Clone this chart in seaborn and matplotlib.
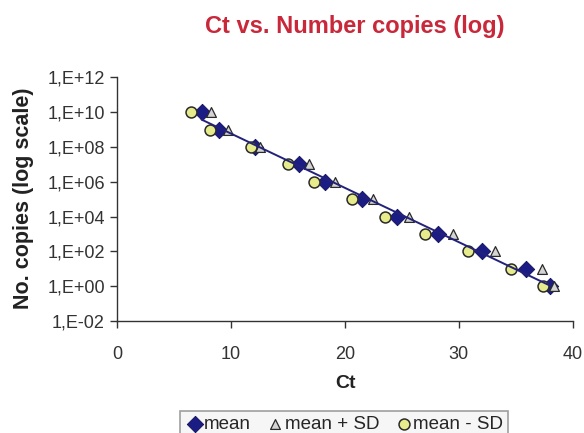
import numpy as np
import pandas as pd
import matplotlib
matplotlib.use("Agg")
import matplotlib.pyplot as plt
import seaborn as sns

# ---- data ----
copies = [1e10, 1e9, 1e8, 1e7, 1e6, 1e5, 1e4, 1e3, 1e2, 1e1, 1e0]
ct_mean = [7.4, 8.9, 12.1, 16.0, 18.2, 21.5, 24.6, 28.2, 32.0, 35.9, 38.0]
ct_plus_sd = [8.2, 9.7, 12.5, 16.8, 19.1, 22.5, 25.6, 29.5, 33.2, 37.3, 38.4]
ct_minus_sd = [6.5, 8.1, 11.7, 15.0, 17.3, 20.6, 23.5, 27.0, 30.8, 34.6, 37.4]
series_names = ["mean", "mean + SD", "mean - SD"]
y_tick_values = [1e-2, 1e0, 1e2, 1e4, 1e6, 1e8, 1e10, 1e12]
y_tick_labels = ["1,E-02", "1,E+00", "1,E+02", "1,E+04", "1,E+06", "1,E+08", "1,E+10", "1,E+12"]
x_tick_values = [0, 10, 20, 30, 40]

df = pd.DataFrame({
    "Ct": ct_mean + ct_plus_sd + ct_minus_sd,
    "copies": copies * 3,
    "series": [series_names[0]] * len(copies) + [series_names[1]] * len(copies) + [series_names[2]] * len(copies),
})

sns.set_style("white")
plt.rcParams["font.family"] = ["Liberation Sans", "DejaVu Sans"]

fig = plt.figure(figsize=(5.84, 4.33), dpi=100)
ax = fig.add_axes([117.3 / 584, 1 - 321 / 433, (572.7 - 117.3) / 584, (321 - 77.3) / 433])

# exponential trendline fit on mean series
coef = np.polyfit(ct_mean, np.log10(copies), 1)
xfit = np.array([min(ct_mean), max(ct_mean)])
trend = pd.DataFrame({"Ct": xfit, "copies": 10 ** np.polyval(coef, xfit)})

styles = {
    "mean": dict(marker="D", s=70, color="#1c1c85", edgecolor="#10105a", linewidth=0.6, zorder=3),
    "mean + SD": dict(marker="^", s=50, color="#d4d4d4", edgecolor="#2a2a2a", linewidth=0.9, zorder=4),
    "mean - SD": dict(marker="o", s=62, color="#e6eb8c", edgecolor="#2a2a2a", linewidth=1.1, zorder=5),
}
handles = []
for name in series_names:
    sub = df[df["series"] == name]
    sns.scatterplot(data=sub, x="Ct", y="copies", ax=ax, legend=False, **styles[name])
    handles.append(ax.collections[-1])

sns.lineplot(data=trend, x="Ct", y="copies", ax=ax, color="#22227a", linewidth=1.4, zorder=6)

ax.set_yscale("log")
ax.set_xlim(0, 40)
ax.set_ylim(1e-2, 1e12)
ax.set_yticks(y_tick_values)
ax.set_yticklabels(y_tick_labels)
ax.yaxis.set_minor_locator(matplotlib.ticker.NullLocator())
ax.set_xticks(x_tick_values)
ax.set_xticklabels([str(v) for v in x_tick_values])
ax.tick_params(axis="both", direction="out", length=5, width=1, color="#333333",
               labelsize=13, labelcolor="#333333", left=True, bottom=True, pad=4)
ax.tick_params(axis="x", pad=13)
for side in ["top", "right"]:
    ax.spines[side].set_visible(False)
for side in ["left", "bottom"]:
    ax.spines[side].set_color("#333333")
    ax.spines[side].set_linewidth(1)
ax.set_xlabel("")
ax.set_ylabel("")

fig.text(355 / 584, 1 - 26 / 433, "Ct vs. Number copies (log)", ha="center", va="center",
         fontsize=17, fontweight="bold", color="#c8283a")
fig.text(24 / 584, 1 - 198 / 433, "No. copies (log scale)", ha="center", va="center",
         rotation=90, fontsize=15.5, fontweight="bold", color="#222222")
fig.text(345 / 584, 1 - 384 / 433, "Ct", ha="center", va="center",
         fontsize=14, fontweight="bold", color="#222222")

leg = fig.legend(handles, series_names, loc="upper center", bbox_to_anchor=(344 / 584, 1 - 411 / 433),
                 ncol=3, frameon=True, fancybox=False, fontsize=13.5, handletextpad=0.0,
                 columnspacing=0.8, borderpad=0.25, handlelength=1.0, borderaxespad=0)
leg.get_frame().set_edgecolor("#888888")
leg.get_frame().set_facecolor("#f4f4f4")
leg.get_frame().set_linewidth(1.2)

fig.savefig("out.png", dpi=100)
